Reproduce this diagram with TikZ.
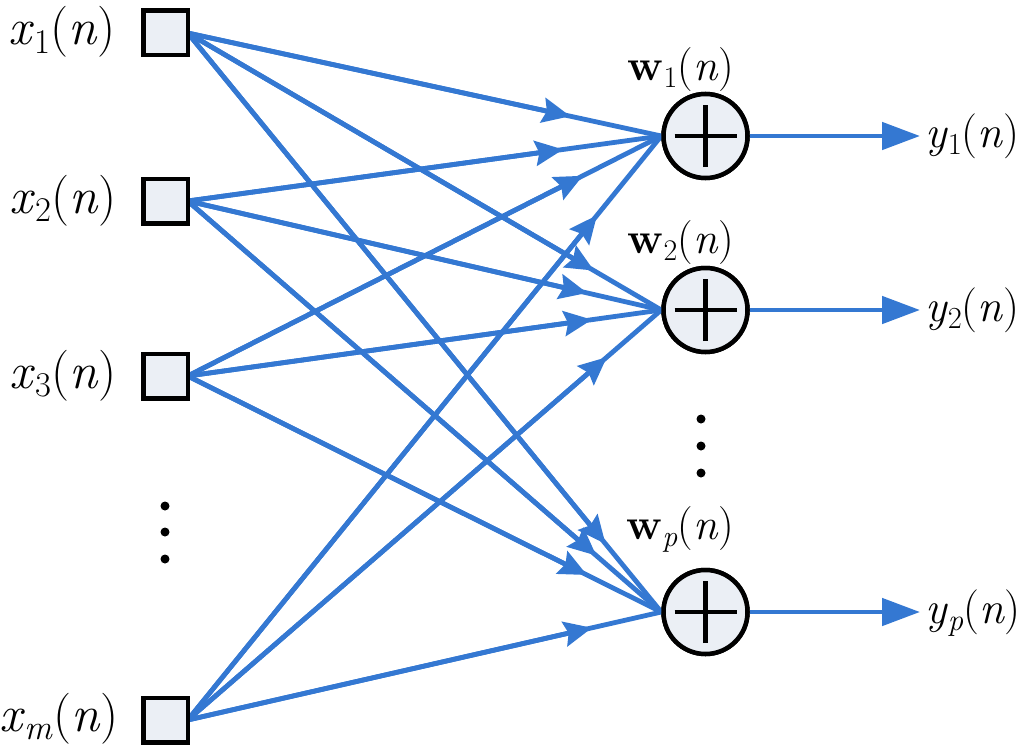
\documentclass[tikz,border=0pt]{standalone}
\usetikzlibrary{arrows.meta,calc}
\definecolor{lineblue}{RGB}{52,120,210}
\definecolor{boxfill}{RGB}{235,239,245}
\newcommand\mysub[1]{\raisebox{-0.17em}{\scalebox{0.68}{#1}}}
\tikzset{
  inbox/.style={draw=black, line width=4.5pt, fill=boxfill, minimum size=40pt, inner sep=0pt},
  adder/.style={circle, draw=black, line width=4.5pt, fill=boxfill, minimum size=84pt, inner sep=0pt},
  conn/.style={draw=lineblue, line width=4.8pt},
  midtip/.style={conn, -{Stealth[length=28pt,width=25pt,inset=4pt]}},
  outarrow/.style={conn, -{Triangle[length=38pt,width=27pt]}},
  xlab/.style={anchor=base east, inner sep=0pt, font=\fontsize{51}{58}\selectfont},
  ylab/.style={anchor=base west, inner sep=0pt, font=\fontsize{45}{52}\selectfont},
  wlab/.style={anchor=base east, inner sep=0pt, font=\fontsize{44}{52}\selectfont},
  dot/.style={circle, fill=black, inner sep=0pt, minimum size=9pt},
  plusarm/.style={draw=black, line width=4.5pt}
}
\newcommand\linkto[3]{%
  \draw[conn] (#1.east) -- (#2.west);
  \draw[midtip] (#1.east) -- ($(#2.west)!#3!(#1.east)$);}
\begin{document}
\begin{tikzpicture}[x=1pt,y=-1pt]
\useasboundingbox (0,0) rectangle (1024,752);
% inputs
\node[inbox] (x1) at (165.5,33) {};
\node[inbox] (x2) at (165.5,201) {};
\node[inbox] (x3) at (165.5,376) {};
\node[inbox] (xm) at (165.5,720) {};
% adders
\node[adder] (a1) at (705.5,136) {};
\node[adder] (a2) at (705.5,310) {};
\node[adder] (ap) at (705.5,612) {};
% connections
\linkto{x1}{a1}{93pt}
\linkto{x2}{a1}{99pt}
\linkto{x3}{a1}{88pt}
\linkto{xm}{a1}{102pt}
\linkto{x1}{a2}{78pt}
\linkto{x2}{a2}{76pt}
\linkto{x3}{a2}{70pt}
\linkto{xm}{a2}{72pt}
\linkto{x1}{ap}{88pt}
\linkto{x2}{ap}{86pt}
\linkto{x3}{ap}{83pt}
\linkto{xm}{ap}{71pt}
% redraw node borders on top
\foreach \n in {x1,x2,x3,xm}{\draw[line width=4.5pt, fill=boxfill] (\n.south west) rectangle (\n.north east);}
\foreach \n in {a1,a2,ap}{
  \draw[line width=4.5pt, fill=boxfill] (\n.center) circle (42pt);
  \draw[plusarm] ([xshift=-31pt]\n.center) -- ([xshift=31pt]\n.center);
  \draw[plusarm] ([yshift=-31pt]\n.center) -- ([yshift=31pt]\n.center);
}
% outputs
\coordinate (o1) at (920,136);
\coordinate (o2) at (920,310);
\coordinate (op) at (920,612);
\draw[outarrow] (a1.east) -- (o1);
\draw[outarrow] (a2.east) -- (o2);
\draw[outarrow] (ap.east) -- (op);
% labels
\node[xlab] (lx1) at (116,45) {\textit{x}\mysub{1}(\textit{n})};
\node[xlab] (lx2) at (117,213) {\textit{x}\mysub{2}(\textit{n})};
\node[xlab] (lx3) at (117,388) {\textit{x}\mysub{3}(\textit{n})};
\node[xlab] (lxm) at (119,731) {\textit{x}\mysub{\textit{m}}(\textit{n})};
\node[ylab] (ly1) at (925,147) {\textit{y}\mysub{1}(\textit{n})};
\node[ylab] (ly2) at (925,321) {\textit{y}\mysub{2}(\textit{n})};
\node[ylab] (lyp) at (925,623) {\textit{y}\mysub{\textit{p}}(\textit{n})};
\node[wlab] (lw1) at (734,80) {\textbf{w}\mysub{1}(\textit{n})};
\node[wlab] (lw2) at (734,253) {\textbf{w}\mysub{2}(\textit{n})};
\node[wlab] (lwp) at (734,539) {\textbf{w}\mysub{\textit{p}}(\textit{n})};
% dots
\node[dot] (dl1) at (165,506) {};
\node[dot] (dl2) at (165,532) {};
\node[dot] (dl3) at (165,559) {};
\node[dot] (dr1) at (701,419) {};
\node[dot] (dr2) at (701,446) {};
\node[dot] (dr3) at (701,473) {};
\end{tikzpicture}
\end{document}
